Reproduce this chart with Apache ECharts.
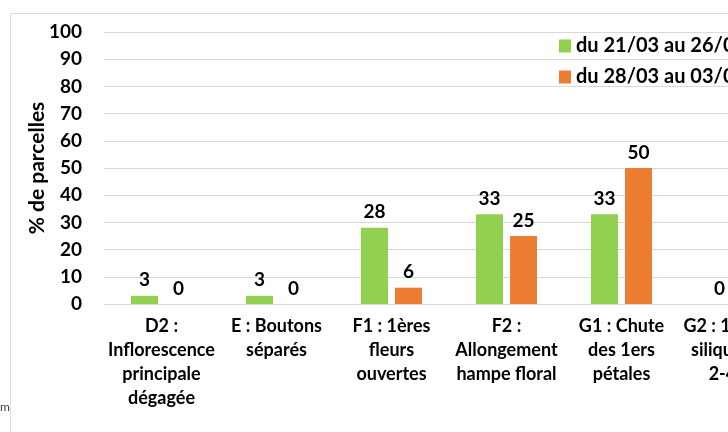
<!DOCTYPE html>
<html>
<head>
<meta charset="utf-8">
<script src="https://cdn.jsdelivr.net/npm/echarts@6/dist/echarts.min.js"></script>
<style>
  html, body { margin: 0; padding: 0; background: #fff; overflow: hidden; width: 728px; height: 432px; }
  #main { width: 850px; height: 432px; }
</style>
</head>
<body>
<div id="main"></div>
<script>
// stades phénologiques
var categories = [
  'D2 :\nInflorescence\nprincipale\ndégagée',
  'E : Boutons\nséparés',
  'F1 : 1ères\nfleurs\nouvertes',
  'F2 :\nAllongement\nhampe floral',
  'G1 : Chute\ndes 1ers\npétales',
  'G2 : 10 1ères\nsiliques ont\n2-4 cm'
];
var seriesNames = ['du 21/03 au 26/03', 'du 28/03 au 03/04'];
var week1 = [3, 3, 28, 33, 33, 0];
var week2 = [0, 0, 6, 25, 50, 19];

var FONT = 'Lato';
var chart = echarts.init(document.getElementById('main'));

var labelStyle = {
  show: true,
  position: 'top',
  distance: 6,
  color: '#000',
  fontFamily: FONT,
  fontWeight: 'bold',
  fontSize: 19
};

var option = {
  animation: false,
  textStyle: { fontFamily: FONT },
  graphic: [
    {
      type: 'rect',
      shape: { x: 10.5, y: 13.5, width: 1000, height: 600 },
      style: { fill: 'none', stroke: '#d9d9d9', lineWidth: 1 },
      silent: true
    },
    {
      type: 'text',
      left: 0,
      top: 401,
      style: { text: 'm', fontSize: 12, fill: '#404040', fontFamily: FONT }
    }
  ],
  legend: {
    orient: 'vertical',
    left: 559,
    top: 36,
    padding: 0,
    itemWidth: 12,
    itemHeight: 13,
    itemGap: 11,
    icon: 'rect',
    data: seriesNames,
    textStyle: { color: '#000', fontFamily: FONT, fontWeight: 'bold', fontSize: 20, lineHeight: 20 }
  },
  grid: { left: 104, top: 32, width: 690, bottom: 128, containLabel: false },
  xAxis: {
    type: 'category',
    data: categories,
    axisLine: { lineStyle: { color: '#d9d9d9' } },
    axisTick: { show: false },
    axisLabel: {
      interval: 0,
      margin: 10,
      color: '#000',
      fontFamily: FONT,
      fontWeight: 'bold',
      fontSize: 18,
      lineHeight: 24
    }
  },
  yAxis: {
    type: 'value',
    min: 0,
    max: 100,
    interval: 10,
    name: '% de parcelles',
    nameLocation: 'middle',
    nameGap: 56,
    nameMoveOverlap: false,
    nameTextStyle: { color: '#000', fontFamily: FONT, fontWeight: 'bold', fontSize: 21 },
    axisLine: { show: false },
    axisTick: { show: false },
    axisLabel: { margin: 22, color: '#000', fontFamily: FONT, fontWeight: 'bold', fontSize: 19 },
    splitLine: { lineStyle: { color: '#d9d9d9' } }
  },
  series: [
    {
      name: seriesNames[0],
      type: 'bar',
      data: week1,
      barWidth: 27,
      barGap: '26%',
      itemStyle: { color: '#92D050' },
      label: labelStyle
    },
    {
      name: seriesNames[1],
      type: 'bar',
      data: week2,
      barWidth: 27,
      barGap: '26%',
      itemStyle: { color: '#ED7D31' },
      label: labelStyle
    }
  ]
};

chart.setOption(option);
</script>
</body>
</html>
